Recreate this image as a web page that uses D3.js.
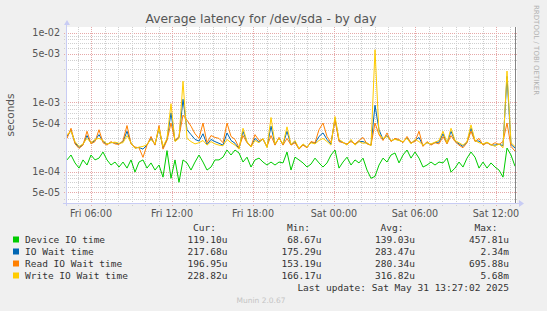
<!DOCTYPE html>
<html>
<head>
<meta charset="utf-8">
<script src="https://cdn.jsdelivr.net/npm/d3@7"></script>
<style>
  body { margin: 0; background: #f0f0f0; }
  svg { display: block; }
</style>
</head>
<body>
<svg id="chart"></svg>
<script>
const seriesNames = ['Device IO time', 'IO Wait time', 'Read IO Wait time', 'Write IO Wait time'];
const seriesColors = ['#00cc00', '#0066b3', '#ff8000', '#ffcc00'];

// latency in microseconds, one sample every ~18 minutes from Fri 04:13
const deviceIO = [147,173,133,112,147,124,173,147,156,191,147,124,137,116,137,112,147,98,137,147,112,133,105,124,83,200,80,147,70,147,
  133,105,137,173,137,105,116,147,147,161,204,173,204,185,137,161,116,147,156,137,124,137,124,137,133,191,105,161,147,
  133,116,128,156,133,116,133,173,204,112,137,161,124,147,133,156,105,80,85,124,156,137,173,185,133,173,204,156,191,
  156,116,124,137,124,137,133,156,98,112,137,116,156,191,161,112,137,112,133,116,105,83,218,173,119];
const ioWait = [320,390,260,222,245,330,255,280,340,270,248,262,258,250,270,380,255,218,222,210,242,300,245,420,220,290,700,275,310,1100,
  400,340,290,275,350,245,290,270,255,240,360,280,255,215,380,265,228,300,265,295,225,450,245,305,245,380,242,270,212,
  245,222,265,255,320,360,290,248,580,280,262,245,280,245,272,270,255,238,900,400,290,330,275,295,282,265,305,255,280,
  310,235,262,245,262,265,350,255,380,275,250,230,265,420,275,275,245,262,242,240,248,235,2340,245,218];
const readIO = [300,420,250,215,240,380,250,270,400,260,240,270,250,245,280,460,250,225,220,160,240,320,240,460,210,280,500,280,320,650,
  550,450,350,300,500,260,330,310,300,260,500,320,290,220,330,260,230,340,280,290,230,330,240,310,240,300,240,260,210,
  240,220,270,260,400,500,320,260,560,270,260,250,270,250,280,310,250,240,500,340,280,360,270,300,290,260,320,260,270,
  380,230,270,240,260,250,320,250,330,270,240,220,260,380,270,300,240,260,240,260,245,270,500,230,197];
const writeIO = [340,380,270,230,250,300,260,290,300,280,250,260,265,255,260,330,260,215,225,230,245,290,250,420,230,300,950,270,300,2000,
  300,270,250,260,280,240,270,250,240,235,290,260,240,210,420,270,225,280,260,300,220,600,250,300,250,440,245,280,215,
  250,225,260,250,280,300,270,240,620,290,265,240,290,240,270,255,260,235,5680,350,300,320,280,290,280,270,300,250,290,
  270,240,260,250,265,280,380,260,420,280,260,240,270,470,280,260,250,265,245,230,250,220,2800,260,229];

const curLabels = ['119.10u', '217.68u', '196.95u', '228.82u'];
const minLabels = ['68.67u', '175.29u', '153.19u', '166.17u'];
const avgLabels = ['139.03u', '283.47u', '280.34u', '316.82u'];
const maxLabels = ['457.81u', '2.34m', '695.88u', '5.68m'];

const yTickValues = [5e-5, 1e-4, 5e-4, 1e-3, 5e-3, 1e-2];
const yTickLabels = ['5e-05', '1e-04', '5e-04', '1e-03', '5e-03', '1e-02'];

const startTime = new Date(2025, 4, 30, 4, 13, 20);
const stepMs = 4 / 13.5 * 3600 * 1000;
const endTime = new Date(startTime.getTime() + (deviceIO.length - 1) * stepMs);

const W = 547, H = 311;
const plot = { left: 67, right: 517, top: 27, bottom: 203 };

const svg = d3.select('#chart').attr('width', W).attr('height', H);
svg.append('rect').attr('width', W).attr('height', H).attr('fill', '#f0f0f0');

const x = d3.scaleTime().domain([startTime, endTime]).range([67, 515]);
const y = d3.scaleLog().domain([3.52e-5, 1.208e-2]).range([plot.bottom, plot.top]);

svg.append('rect')
  .attr('x', plot.left).attr('y', plot.top)
  .attr('width', plot.right - plot.left).attr('height', plot.bottom - plot.top)
  .attr('fill', '#ffffff');

const grid = svg.append('g').attr('shape-rendering', 'crispEdges');

// horizontal grid, minor then major
const hValues = [];
for (let k = -5; k <= -2; k++) {
  for (let m = 1; m <= 9; m++) {
    const v = m * Math.pow(10, k);
    if (v >= y.domain()[0] && v <= y.domain()[1]) hValues.push({ v, major: m === 1 || m === 5 });
  }
}
grid.selectAll('.hgrid')
  .data(hValues)
  .enter()
  .append('line')
  .attr('x1', plot.left - 3).attr('x2', plot.right)
  .attr('y1', d => Math.round(y(d.v)) + 0.5).attr('y2', d => Math.round(y(d.v)) + 0.5)
  .attr('stroke', d => d.major ? '#e6a8a8' : '#cfcfcf')
  .attr('stroke-dasharray', '1,1');

// vertical grid, every hour, red every 6 hours
const hours = d3.timeHour.range(startTime, endTime);
grid.selectAll('.vgrid')
  .data(hours)
  .enter()
  .append('line')
  .attr('x1', d => Math.round(x(d)) + 0.5).attr('x2', d => Math.round(x(d)) + 0.5)
  .attr('y1', plot.top).attr('y2', plot.bottom + 3)
  .attr('stroke', d => d.getHours() % 6 === 0 ? '#e6a8a8' : '#cfcfcf')
  .attr('stroke-dasharray', '1,1');

// series lines
const seriesData = [deviceIO, ioWait, readIO, writeIO];
const line = d3.line()
  .x((d, i) => x(new Date(startTime.getTime() + i * stepMs)))
  .y(d => y(d * 1e-6));

svg.append('g').selectAll('path')
  .data(seriesData)
  .enter()
  .append('path')
  .attr('d', line)
  .attr('fill', 'none')
  .attr('stroke', (d, i) => seriesColors[i])
  .attr('stroke-width', 1);

// now marker
svg.append('line')
  .attr('x1', 515.5).attr('x2', 515.5)
  .attr('y1', plot.top).attr('y2', plot.bottom)
  .attr('stroke', '#858585').attr('stroke-width', 1);

// axes
const axisColor = '#c8ccf4';
svg.append('line')
  .attr('x1', plot.left - 0.5).attr('x2', plot.left - 0.5)
  .attr('y1', 24).attr('y2', plot.bottom + 3)
  .attr('stroke', axisColor);
svg.append('line')
  .attr('x1', plot.left - 4).attr('x2', 521)
  .attr('y1', plot.bottom + 0.5).attr('y2', plot.bottom + 0.5)
  .attr('stroke', axisColor);
svg.append('path').attr('d', 'M64,25 L70,25 L67,20 Z').attr('fill', axisColor);
svg.append('path').attr('d', 'M519,200 L519,207 L524,203.5 Z').attr('fill', axisColor);

// tick labels
const tickFont = 'DejaVu Sans, sans-serif';
svg.append('g').selectAll('text')
  .data(yTickValues)
  .enter()
  .append('text')
  .attr('x', 60)
  .attr('y', d => y(d) + 3.5)
  .attr('text-anchor', 'end')
  .attr('font-family', tickFont).attr('font-size', 9.6)
  .attr('fill', '#555')
  .text((d, i) => yTickLabels[i]);

const majorHours = d3.timeHour.every(6).range(startTime, endTime);
const fmt = d3.timeFormat('%a %H:%M');
svg.append('g').selectAll('text')
  .data(majorHours)
  .enter()
  .append('text')
  .attr('x', d => x(d))
  .attr('y', 216.5)
  .attr('text-anchor', 'middle')
  .attr('font-family', tickFont).attr('font-size', 9.6)
  .attr('fill', '#555')
  .text(d => fmt(d));

// title and side labels
svg.append('text')
  .attr('x', 261).attr('y', 23)
  .attr('text-anchor', 'middle')
  .attr('font-family', tickFont).attr('font-size', 12.3)
  .attr('fill', '#555')
  .text('Average latency for /dev/sda - by day');

svg.append('text')
  .attr('transform', 'translate(14,115) rotate(-90)')
  .attr('text-anchor', 'middle')
  .attr('font-family', tickFont).attr('font-size', 10.5)
  .attr('fill', '#555')
  .text('seconds');

svg.append('text')
  .attr('transform', 'translate(534,5) rotate(90)')
  .attr('font-family', tickFont).attr('font-size', 7)
  .attr('fill', '#b0b0b0')
  .text('RRDTOOL / TOBI OETIKER');

// legend
const mono = 'DejaVu Sans Mono, monospace';
const colEnds = [227.5, 321.5, 415, 509];
const headers = ['Cur:', 'Min:', 'Avg:', 'Max:'];
const legend = svg.append('g').attr('font-family', mono).attr('font-size', 9.5).attr('fill', '#333');

legend.selectAll('.hdr')
  .data(headers)
  .enter()
  .append('text')
  .attr('x', (d, i) => colEnds[i] - 11.5)
  .attr('y', 230.5)
  .attr('text-anchor', 'end')
  .text(d => d);

const rows = legend.selectAll('.row')
  .data(seriesNames)
  .enter()
  .append('g')
  .attr('transform', (d, i) => `translate(0, ${242.5 + i * 12})`);

rows.append('rect')
  .attr('x', 13).attr('y', -6).attr('width', 6).attr('height', 6)
  .attr('fill', (d, i) => seriesColors[i]);
rows.append('text').attr('x', 25).text(d => d);

const cols = [curLabels, minLabels, avgLabels, maxLabels];
cols.forEach((arr, c) => {
  rows.append('text')
    .attr('x', colEnds[c])
    .attr('text-anchor', 'end')
    .text((d, i) => arr[i]);
});

legend.append('text')
  .attr('x', 509).attr('y', 290.5)
  .attr('text-anchor', 'end')
  .text('Last update: Sat May 31 13:27:02 2025');

svg.append('text')
  .attr('x', 261).attr('y', 302.5)
  .attr('text-anchor', 'middle')
  .attr('font-family', tickFont).attr('font-size', 7.5)
  .attr('fill', '#c4c4c4')
  .text('Munin 2.0.67');
</script>
</body>
</html>
